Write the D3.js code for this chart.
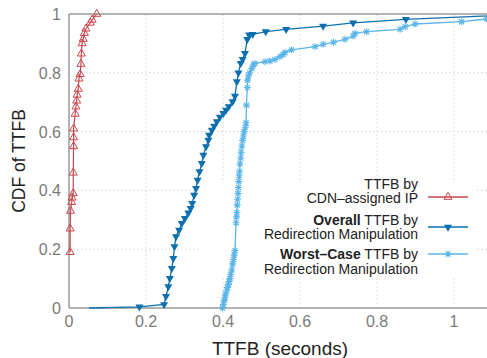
<!DOCTYPE html>
<html>
<head>
<meta charset="utf-8">
<script src="https://cdn.jsdelivr.net/npm/d3@7"></script>
<style>
  body { margin: 0; background: #fff; }
  svg { display: block; font-family: "Liberation Sans", Arial, sans-serif; }
</style>
</head>
<body>
<div id="chart"></div>
<script>
// CDF points: [seconds, cdf]
var cdnIP = [[0.003,0.19],[0.003,0.27],[0.004,0.33],[0.007,0.36],[0.008,0.375],[0.011,0.39],[0.011,0.46],[0.012,0.55],[0.012,0.58],[0.012,0.61],[0.016,0.66],[0.018,0.685],[0.02,0.705],[0.021,0.725],[0.024,0.745],[0.026,0.78],[0.029,0.795],[0.031,0.83],[0.032,0.865],[0.034,0.9],[0.037,0.915],[0.04,0.935],[0.044,0.95],[0.055,0.97],[0.06,0.98],[0.072,1.0]];

var overall = [[0.052,0.0],[0.183,0.004],[0.247,0.012],[0.252,0.04],[0.258,0.073],[0.262,0.101],[0.267,0.135],[0.271,0.169],[0.274,0.209],[0.278,0.243],[0.286,0.265],[0.293,0.288],[0.301,0.305],[0.31,0.324],[0.316,0.339],[0.32,0.356],[0.325,0.384],[0.33,0.407],[0.334,0.435],[0.339,0.464],[0.345,0.492],[0.349,0.52],[0.356,0.549],[0.362,0.571],[0.364,0.588],[0.371,0.605],[0.377,0.619],[0.384,0.634],[0.392,0.649],[0.401,0.662],[0.408,0.673],[0.415,0.685],[0.425,0.702],[0.431,0.721],[0.436,0.77],[0.44,0.8],[0.446,0.832],[0.451,0.846],[0.457,0.866],[0.463,0.914],[0.468,0.929],[0.477,0.931],[0.511,0.94],[0.564,0.948],[0.66,0.959],[0.738,0.97],[0.875,0.982],[1.2,1.0]];

var worstCase = [[0.399,0.0],[0.401,0.012],[0.403,0.025],[0.405,0.035],[0.407,0.048],[0.41,0.061],[0.412,0.07],[0.414,0.08],[0.416,0.09],[0.418,0.1],[0.42,0.115],[0.423,0.13],[0.425,0.15],[0.427,0.165],[0.429,0.18],[0.431,0.195],[0.434,0.29],[0.435,0.31],[0.436,0.325],[0.437,0.35],[0.438,0.37],[0.439,0.39],[0.44,0.41],[0.441,0.43],[0.442,0.45],[0.443,0.465],[0.444,0.49],[0.446,0.51],[0.447,0.53],[0.449,0.55],[0.451,0.57],[0.453,0.585],[0.455,0.6],[0.458,0.615],[0.46,0.63],[0.461,0.69],[0.463,0.75],[0.464,0.775],[0.466,0.79],[0.469,0.8],[0.475,0.815],[0.479,0.827],[0.483,0.832],[0.509,0.838],[0.522,0.84],[0.535,0.845],[0.548,0.855],[0.556,0.862],[0.561,0.869],[0.578,0.878],[0.639,0.889],[0.66,0.897],[0.687,0.904],[0.717,0.914],[0.738,0.925],[0.743,0.934],[0.773,0.94],[0.86,0.948],[0.873,0.957],[0.899,0.966],[1.02,0.974],[1.085,0.983],[1.2,0.995]];

var xTicks = [0, 0.2, 0.4, 0.6, 0.8, 1];
var yTicks = [0, 0.2, 0.4, 0.6, 0.8, 1];

var width = 487, height = 358;
var plotLeft = 69, plotTop = 14, plotBottom = 308;

var svg = d3.select("#chart").append("svg")
    .attr("width", width)
    .attr("height", height);

var x = d3.scaleLinear().domain([0, 1.1]).range([plotLeft, plotLeft + 1.1 * 385]);
var y = d3.scaleLinear().domain([0, 1]).range([plotBottom, plotTop]);

var gridColor = "#d4d4d4";
var axisColor = "#9a9a9a";
var tickColor = "#7a7a7a";

// grid
svg.append("g").selectAll("line")
    .data(xTicks.filter(function(d) { return d > 0; }))
    .enter().append("line")
    .attr("x1", function(d) { return x(d); })
    .attr("x2", function(d) { return x(d); })
    .attr("y1", y(0)).attr("y2", y(1))
    .attr("stroke", gridColor).attr("stroke-width", 1)
    .attr("stroke-dasharray", "1.5,2.5");

svg.append("g").selectAll("line")
    .data(yTicks.filter(function(d) { return d > 0 && d < 1; }))
    .enter().append("line")
    .attr("x1", x(0)).attr("x2", width)
    .attr("y1", function(d) { return y(d); })
    .attr("y2", function(d) { return y(d); })
    .attr("stroke", gridColor).attr("stroke-width", 1)
    .attr("stroke-dasharray", "1.5,2.5");

// opaque key background hides the grid only
svg.append("rect")
    .attr("x", 200).attr("y", 183)
    .attr("width", 276).attr("height", 93)
    .attr("fill", "#fff");

// frame
svg.append("line").attr("x1", x(0)).attr("x2", width).attr("y1", y(1)).attr("y2", y(1))
    .attr("stroke", axisColor).attr("stroke-width", 1.5);
svg.append("line").attr("x1", x(0)).attr("x2", width).attr("y1", y(0)).attr("y2", y(0))
    .attr("stroke", axisColor).attr("stroke-width", 1.5);
svg.append("line").attr("x1", x(0)).attr("x2", x(0)).attr("y1", y(0)).attr("y2", y(1))
    .attr("stroke", axisColor).attr("stroke-width", 1.5);

// tick labels
svg.append("g").selectAll("text")
    .data(xTicks).enter().append("text")
    .attr("x", function(d) { return x(d); })
    .attr("y", 327)
    .attr("text-anchor", "middle")
    .attr("font-size", 16)
    .attr("fill", tickColor)
    .text(function(d) { return d; });

svg.append("g").selectAll("text")
    .data(yTicks).enter().append("text")
    .attr("x", 61)
    .attr("y", function(d) { return y(d) + 6; })
    .attr("text-anchor", "end")
    .attr("font-size", 16)
    .attr("fill", tickColor)
    .text(function(d) { return d; });

// axis titles
svg.append("text")
    .attr("x", 280).attr("y", 355)
    .attr("text-anchor", "middle")
    .attr("font-size", 19)
    .attr("fill", "#222")
    .text("TTFB (seconds)");

svg.append("text")
    .attr("transform", "translate(25,161) rotate(-90)")
    .attr("text-anchor", "middle")
    .attr("font-size", 17.5)
    .attr("fill", "#222")
    .text("CDF of TTFB");

// series
var red = "#c8464c", dark = "#0d6fae", light = "#5bb5e8";
var line = d3.line().x(function(d) { return x(d[0]); }).y(function(d) { return y(d[1]); });

var triUp = d3.symbol().type(d3.symbolTriangle).size(28);
var asterisk = "M-3.5,0H3.5M0,-3.5V3.5M-2.6,-2.6L2.6,2.6M-2.6,2.6L2.6,-2.6";

var plot = svg.append("g");

plot.append("path").datum(worstCase)
    .attr("d", line).attr("fill", "none")
    .attr("stroke", light).attr("stroke-width", 1.3);
plot.append("g").selectAll("path")
    .data(worstCase).enter().append("path")
    .attr("transform", function(d) { return "translate(" + x(d[0]) + "," + y(d[1]) + ")"; })
    .attr("d", asterisk)
    .attr("stroke", light).attr("stroke-width", 1.1).attr("fill", "none");

plot.append("path").datum(overall)
    .attr("d", line).attr("fill", "none")
    .attr("stroke", dark).attr("stroke-width", 1.3);
plot.append("g").selectAll("path")
    .data(overall.slice(1)).enter().append("path")
    .attr("transform", function(d) { return "translate(" + x(d[0]) + "," + y(d[1]) + ") rotate(180)"; })
    .attr("d", triUp)
    .attr("fill", dark);

plot.append("path").datum(cdnIP)
    .attr("d", line).attr("fill", "none")
    .attr("stroke", red).attr("stroke-width", 1.2);
plot.append("g").selectAll("path")
    .data(cdnIP).enter().append("path")
    .attr("transform", function(d) { return "translate(" + x(d[0]) + "," + y(d[1]) + ")"; })
    .attr("d", triUp)
    .attr("fill", "none")
    .attr("stroke", red).attr("stroke-width", 1);

// legend
var legend = [
  { bold: "", rest: "TTFB by", line2: "CDN-assigned IP", y1: 189, y2: 203, ky: 197, color: red, mark: "up" },
  { bold: "Overall", rest: " TTFB by", line2: "Redirection Manipulation", y1: 225, y2: 238.5, ky: 227, color: dark, mark: "down" },
  { bold: "Worst\u2013Case", rest: " TTFB by", line2: "Redirection Manipulation", y1: 259, y2: 274, ky: 254, color: light, mark: "star" }
];

var key = svg.append("g").attr("font-size", 14).attr("fill", "#222");

legend.forEach(function(d) {
  var t = key.append("text").attr("x", 418).attr("y", d.y1).attr("text-anchor", "end");
  if (d.bold) t.append("tspan").attr("font-weight", "bold").text(d.bold);
  t.append("tspan").text(d.rest);
  key.append("text").attr("x", 418).attr("y", d.y2).attr("text-anchor", "end")
      .text(d.line2.replace("-", "\u2013"));

  key.append("line")
      .attr("x1", 428).attr("x2", 468).attr("y1", d.ky).attr("y2", d.ky)
      .attr("stroke", d.color).attr("stroke-width", 1.3);
  var m = key.append("path").attr("transform", "translate(448," + d.ky + ")" + (d.mark == "down" ? " rotate(180)" : ""));
  if (d.mark == "star") {
    m.attr("d", asterisk).attr("stroke", d.color).attr("stroke-width", 1.1).attr("fill", "none");
  } else if (d.mark == "down") {
    m.attr("d", triUp).attr("fill", d.color);
  } else {
    m.attr("d", triUp).attr("fill", "none").attr("stroke", d.color).attr("stroke-width", 1);
  }
});
</script>
</body>
</html>
